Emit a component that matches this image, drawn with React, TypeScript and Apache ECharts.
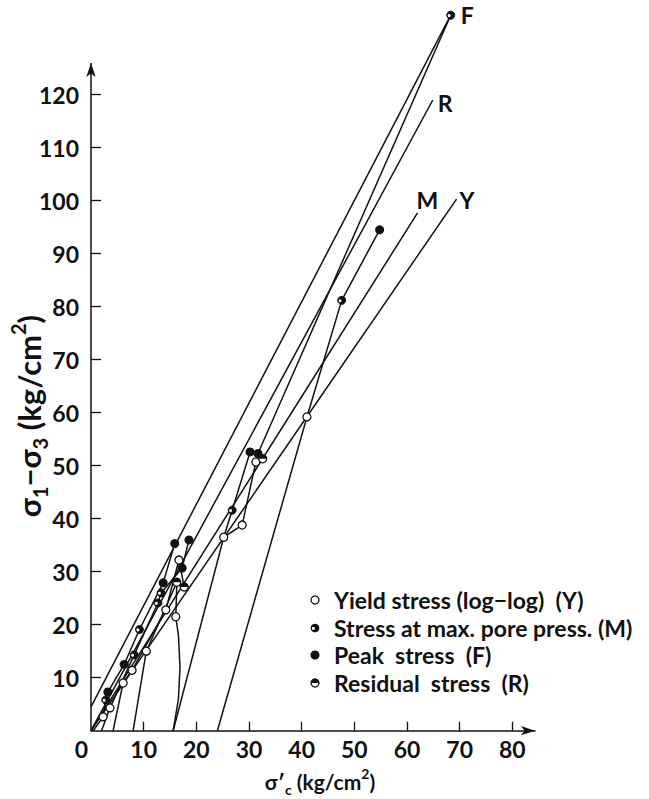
import React, { useEffect, useRef } from "react";
import * as echarts from "echarts";

// ---- axis ticks ----
const xTickValues = [0, 10, 20, 30, 40, 50, 60, 70, 80];
const yTickValues = [10, 20, 30, 40, 50, 60, 70, 80, 90, 100, 110, 120];

// ---- envelope lines (label, start, end) ----
const envLabels = ["F", "R", "M", "Y"];
const envF = [[0, 4.5], [68.3, 135.0]];
const envR = [[0, 0], [64.9, 119.0]];
const envM = [[0, 0], [62.0, 97.7]];
const envY = [[0, 0], [69.4, 100.3]];

// ---- stress paths ----
const pathA = [[0.4, 0], [2.3, 2.6], [2.8, 5.8], [3.2, 7.3], [6.3, 12.5], [9.2, 19.1], [13.7, 27.9], [15.9, 35.3]];
const pathB = [[2.0, 0], [3.6, 4.3], [8.2, 14.3], [12.7, 24.1], [13.3, 26.0], [17.3, 30.7], [18.6, 36.0]];
const pathC = [[4.2, 0], [6.1, 9.0], [7.8, 11.4], [14.2, 22.8], [16.7, 32.2], [17.7, 27.1]];
const pathD = [[8.0, 0], [10.5, 15.0], [16.3, 28.0]];
const pathE = [[15.6, 0], [16.6, 6.0], [16.9, 12.0], [16.6, 18.0], [16.1, 21.5], [16.3, 28.0]];
const pathF = [[15.6, 0], [25.2, 36.5], [26.8, 41.6], [30.2, 52.6], [31.7, 52.3], [68.3, 135.0]];
const pathG = [[24.0, 0], [41.0, 59.2], [47.6, 81.2], [54.8, 94.5]];
const pathH = [[25.2, 36.5], [28.7, 38.8], [31.3, 50.7], [32.6, 51.3]];
const paths = [pathA, pathB, pathC, pathD, pathE, pathF, pathG, pathH];

// ---- points by type ----
const yieldPts = [[2.3, 2.6], [3.6, 4.3], [6.1, 9.0], [7.8, 11.4], [10.5, 15.0], [14.2, 22.8], [16.1, 21.5], [16.7, 32.2], [25.2, 36.5], [28.7, 38.8], [31.3, 50.7], [41.0, 59.2]];
const maxPorePts = [[2.8, 5.8], [8.2, 14.3], [9.2, 19.1], [12.7, 24.1], [13.3, 26.0], [26.8, 41.6], [47.6, 81.2], [68.3, 135.0]];
const peakPts = [[3.2, 7.3], [6.3, 12.5], [13.7, 27.9], [15.9, 35.3], [17.3, 30.7], [18.6, 36.0], [30.2, 52.6], [31.7, 52.3], [54.8, 94.5]];
const residualPts = [[16.3, 28.0], [17.7, 27.1], [32.6, 51.3]];

const legendLabels = [
  "Yield stress (log\u2212log)  (Y)",
  "Stress at max. pore press. (M)",
  "Peak  stress  (F)",
  "Residual  stress  (R)",
];

const FONT = "Lato, 'DejaVu Sans', sans-serif";
const INK = "#111";

export default function App() {
  const ref = useRef<HTMLDivElement>(null);
  useEffect(() => {
    document.body.style.margin = "0";
    if (!ref.current) return;
    const chart = echarts.init(ref.current, null, { renderer: "svg" });

    const envData = [envF, envR, envM, envY];
    const envLabelOpts = [
      { distance: 10, offset: [0, 0] },
      { distance: 5, offset: [0, 3] },
      { distance: 0, offset: [-1, -13] },
      { distance: 3, offset: [0, 1] },
    ];

    const lineStyle = { color: INK, width: 1.5 };

    const envSeries = envData.map((d, i) => ({
      type: "line",
      data: d,
      showSymbol: false,
      silent: true,
      clip: false,
      z: 2,
      lineStyle,
      endLabel: {
        show: true,
        formatter: envLabels[i],
        distance: envLabelOpts[i].distance,
        offset: envLabelOpts[i].offset,
        color: INK,
        fontFamily: FONT,
        fontWeight: "bold",
        fontSize: 23,
      },
    }));

    const pathSeries = paths.map((d) => ({
      type: "line",
      data: d,
      showSymbol: false,
      silent: true,
      clip: false,
      z: 2,
      lineStyle,
    }));

    const halfTop = "path://M0,10 A10,10 0 0 1 20,10 Z";

    const scatterSeries = [
      {
        type: "scatter",
        data: yieldPts,
        symbol: "circle",
        symbolSize: 8,
        clip: false,
        z: 4,
        itemStyle: { color: "#fff", borderColor: INK, borderWidth: 1.3, opacity: 1 },
      },
      {
        type: "scatter",
        data: maxPorePts,
        symbol: "circle",
        symbolSize: 8,
        clip: false,
        z: 4,
        itemStyle: { color: INK, borderColor: INK, borderWidth: 1, opacity: 1 },
      },
      {
        type: "scatter",
        data: maxPorePts,
        symbol: "circle",
        symbolSize: 3,
        symbolOffset: [-1.6, 0.4],
        clip: false,
        z: 5,
        itemStyle: { color: "#fff", opacity: 1 },
      },
      {
        type: "scatter",
        data: peakPts,
        symbol: "circle",
        symbolSize: 9,
        clip: false,
        z: 4,
        itemStyle: { color: INK, opacity: 1 },
      },
      {
        type: "scatter",
        data: residualPts,
        symbol: "circle",
        symbolSize: 8,
        clip: false,
        z: 4,
        itemStyle: { color: "#fff", borderColor: INK, borderWidth: 1.3, opacity: 1 },
      },
      {
        type: "scatter",
        data: residualPts,
        symbol: halfTop,
        symbolSize: [8, 4],
        symbolOffset: [0, -2],
        clip: false,
        z: 5,
        itemStyle: { color: INK, opacity: 1 },
      },
    ];

    const axisLineSeries = {
      type: "line",
      data: [],
      silent: true,
      markLine: {
        silent: true,
        symbol: ["none", "arrow"],
        symbolSize: [7, 14],
        label: { show: false },
        lineStyle: { color: INK, width: 1.5, type: "solid" },
        data: [[{ coord: [0, 0] }, { coord: [0, 126] }]],
      },
    };

    const rowY = [600, 628, 655, 683];
    const mx = 315;
    const legendChildren: any[] = [];
    legendLabels.forEach((t, i) => {
      const y = rowY[i];
      if (i === 0) {
        legendChildren.push({ type: "circle", shape: { cx: mx, cy: y, r: 4 }, style: { fill: "#fff", stroke: INK, lineWidth: 1.3 } });
      } else if (i === 1) {
        legendChildren.push({ type: "circle", shape: { cx: mx, cy: y, r: 4.3 }, style: { fill: INK } });
        legendChildren.push({ type: "circle", shape: { cx: mx - 1.6, cy: y + 0.4, r: 1.5 }, style: { fill: "#fff" } });
      } else if (i === 2) {
        legendChildren.push({ type: "circle", shape: { cx: mx, cy: y, r: 4.5 }, style: { fill: INK } });
      } else {
        legendChildren.push({ type: "circle", shape: { cx: mx, cy: y, r: 4 }, style: { fill: "#fff", stroke: INK, lineWidth: 1.3 } });
        legendChildren.push({ type: "sector", shape: { cx: mx, cy: y, r: 4, r0: 0, startAngle: Math.PI, endAngle: Math.PI * 2 }, style: { fill: INK } });
      }
      legendChildren.push({
        type: "text",
        x: 334,
        y,
        style: { text: t, fontFamily: FONT, fontWeight: "bold", fontSize: 23, fill: INK, textAlign: "left", textVerticalAlign: "middle" },
      });
    });

    const xTitleRich = {
      a: { fontFamily: FONT, fontWeight: "bold", fontSize: 21, fill: INK, color: INK, lineHeight: 30 },
      b: { fontFamily: FONT, fontWeight: "bold", fontSize: 14, fill: INK, color: INK, verticalAlign: "bottom", lineHeight: 30 },
      p: { fontFamily: FONT, fontWeight: "bold", fontSize: 14, fill: INK, color: INK, verticalAlign: "top", lineHeight: 30 },
    };
    const yTitleRich = {
      a: { fontFamily: FONT, fontWeight: "bold", fontSize: 31, fill: INK, color: INK, lineHeight: 42 },
      b: { fontFamily: FONT, fontWeight: "bold", fontSize: 20, fill: INK, color: INK, verticalAlign: "bottom", lineHeight: 42 },
      p: { fontFamily: FONT, fontWeight: "bold", fontSize: 20, fill: INK, color: INK, verticalAlign: "top", lineHeight: 42 },
    };

    const option = {
      animation: false,
      backgroundColor: "#fff",
      grid: { left: 91, right: 114, top: 4.6, bottom: 68.3, containLabel: false },
      xAxis: {
        type: "value",
        min: 0,
        max: 84.3,
        interval: 10,
        axisLine: {
          show: true,
          symbol: ["none", "arrow"],
          symbolSize: [7, 14],
          lineStyle: { color: INK, width: 1.5 },
        },
        axisTick: {
          show: true,
          inside: true,
          length: 9,
          customValues: xTickValues.slice(1),
          lineStyle: { color: INK, width: 1.3 },
        },
        axisLabel: {
          customValues: xTickValues,
          margin: 7,
          color: INK,
          fontFamily: FONT,
          fontWeight: "bold",
          fontSize: 23,
          formatter: (v: number) => (v === 0 ? "{z|0}" : String(v)),
          rich: { z: { fontFamily: FONT, fontWeight: "bold", fontSize: 23, color: INK, padding: [0, 19, 0, 0] } },
        },
        splitLine: { show: false },
      },
      yAxis: {
        type: "value",
        min: 0,
        max: 137,
        interval: 10,
        axisLine: { show: false },
        axisTick: {
          show: true,
          inside: true,
          length: 10,
          customValues: yTickValues,
          lineStyle: { color: INK, width: 1.3 },
        },
        axisLabel: {
          customValues: yTickValues,
          margin: 12,
          color: INK,
          fontFamily: FONT,
          fontWeight: "bold",
          fontSize: 23,
        },
        splitLine: { show: false },
      },
      graphic: [
        {
          type: "text",
          x: 320,
          y: 781,
          style: {
            text: "{a|\u03c3\u2032}{b|c}{a| (kg/cm}{p|2}{a|)}",
            rich: xTitleRich,
            textAlign: "center",
            textVerticalAlign: "middle",
          },
        },
        {
          type: "text",
          x: 29,
          y: 416,
          rotation: Math.PI / 2,
          style: {
            text: "{a|\u03c3}{b|1}{a|\u2212\u03c3}{b|3}{a| (kg/cm}{p|2}{a|)}",
            rich: yTitleRich,
            textAlign: "center",
            textVerticalAlign: "middle",
          },
        },
        { type: "group", children: legendChildren },
      ],
      series: [...envSeries, ...pathSeries, ...scatterSeries, axisLineSeries],
    };

    chart.setOption(option as any);
    return () => chart.dispose();
  }, []);

  return <div ref={ref} style={{ width: 649, height: 799 }} />;
}
